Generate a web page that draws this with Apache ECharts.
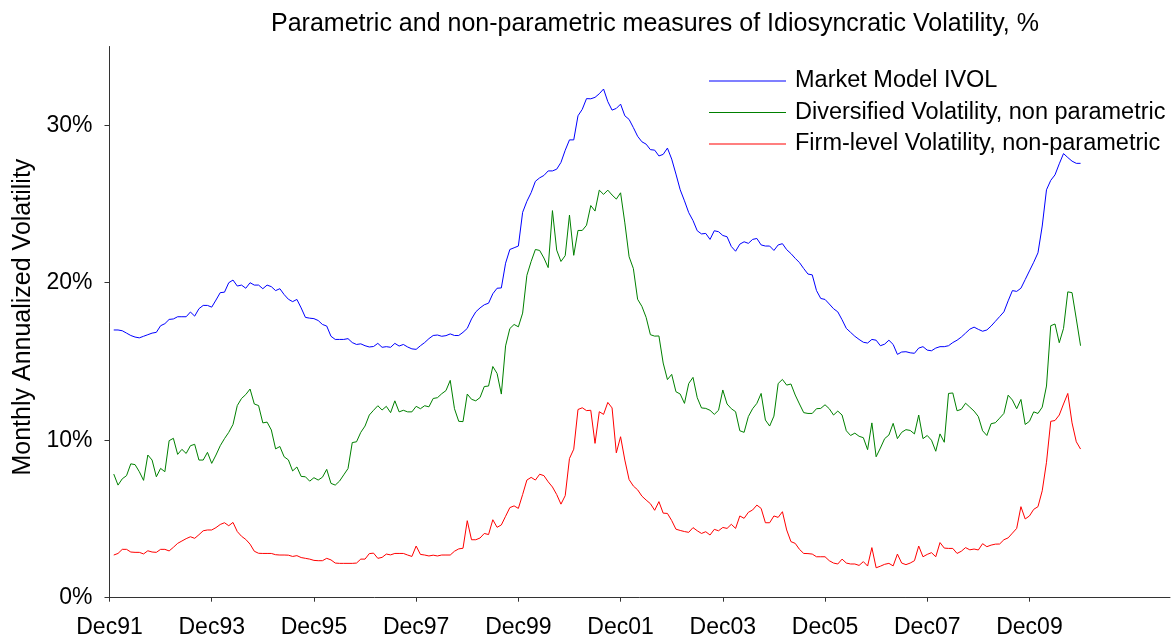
<!DOCTYPE html>
<html>
<head>
<meta charset="utf-8">
<script src="https://cdn.jsdelivr.net/npm/echarts@6/dist/echarts.min.js"></script>
<style>
html,body{margin:0;padding:0;background:#fff;}
#chart{width:1173px;height:641px;}
</style>
</head>
<body>
<div id="chart"></div>
<script>
// Monthly data, Jan 1992 .. Dec 2010 (one row per year)
const marketIVOL = [
17.0,17.0,16.95,16.8,16.65,16.55,16.5,16.6,16.7,16.8,16.85,17.27,
17.4,17.67,17.7,17.84,17.84,17.84,18.14,17.88,18.35,18.56,18.56,18.45,
18.9,19.37,19.4,20.0,20.17,19.79,19.85,19.65,20.0,19.85,19.85,19.62,
19.85,19.75,19.5,19.62,19.25,18.95,18.8,18.94,18.4,17.8,17.75,17.72,
17.6,17.35,17.25,16.6,16.4,16.4,16.4,16.45,16.2,16.08,16.12,16.0,
15.92,15.95,16.15,15.9,15.94,15.9,16.15,15.98,16.08,15.92,15.8,15.77,
16.0,16.2,16.45,16.65,16.68,16.6,16.64,16.75,16.65,16.65,16.85,17.1,
17.7,18.15,18.4,18.6,18.7,19.3,19.65,19.67,21.24,22.11,22.22,22.33,
24.47,25.17,25.72,26.44,26.66,26.81,27.1,27.1,27.21,27.64,28.41,29.07,
29.07,30.6,31.01,31.69,31.68,31.77,32.0,32.3,31.5,30.96,31.07,31.34,
30.6,30.37,29.85,29.3,28.95,28.8,28.45,28.42,28.05,28.15,28.55,27.85,
26.9,25.9,25.2,24.45,23.95,23.3,23.1,23.13,22.75,23.3,23.24,23.0,
22.92,22.3,22.0,22.45,22.6,22.5,22.75,22.81,22.4,22.33,22.33,22.05,
22.4,22.48,22.1,21.85,21.55,21.28,20.9,20.55,20.5,19.5,19.0,18.94,
18.65,18.35,18.15,17.65,17.1,16.85,16.6,16.4,16.22,16.17,16.4,16.35,
16.0,16.1,16.35,16.08,15.45,15.6,15.62,15.55,15.52,15.85,15.94,15.72,
15.68,15.85,15.94,15.94,16.0,16.2,16.35,16.55,16.8,17.05,17.18,17.04,
16.92,17.0,17.25,17.55,17.85,18.15,18.85,19.5,19.45,19.65,20.2,20.75,
21.3,21.9,23.6,25.9,26.5,26.85,27.55,28.2,27.95,27.72,27.58,27.58
];
const diversifiedVol = [
7.85,7.15,7.55,7.75,8.5,8.45,8.0,7.45,9.06,8.74,7.68,8.21,
8.0,9.97,10.12,9.1,9.42,9.16,9.65,9.74,8.74,8.74,9.23,8.53,
9.06,9.65,10.1,10.5,11.0,12.2,12.65,12.9,13.25,12.3,12.2,11.1,
11.15,10.65,9.45,9.6,8.95,8.75,8.05,8.3,7.7,7.68,7.4,7.62,
7.47,7.65,8.15,7.26,7.15,7.4,7.8,8.2,9.85,9.9,10.5,10.9,
11.6,11.9,12.19,11.92,12.15,11.75,12.5,11.8,11.9,11.8,11.8,12.15,
12.0,12.19,12.12,12.65,12.7,12.95,13.15,13.8,12.0,11.2,11.18,12.93,
12.6,12.5,12.71,13.41,13.44,14.68,14.24,12.93,15.99,17.09,17.35,17.2,
18.07,20.47,21.35,22.11,22.05,21.57,20.96,24.58,22.07,21.35,21.72,24.3,
21.74,23.32,23.32,23.65,24.9,24.55,25.88,25.61,25.88,25.57,25.31,25.71,
23.8,21.65,20.9,18.95,18.5,17.8,16.7,16.61,16.62,14.9,13.85,14.18,
13.08,12.93,12.34,13.6,13.99,12.7,12.05,12.02,11.9,11.64,11.9,13.19,
12.3,12.0,11.81,10.6,10.5,11.5,12.0,12.34,12.97,11.28,10.9,11.53,
13.6,13.86,13.5,13.57,12.87,12.3,11.75,11.7,11.7,12.0,12.02,12.25,
12.0,11.6,11.85,11.6,10.6,10.3,10.45,10.25,10.16,9.4,11.1,8.95,
9.5,10.1,10.33,11.07,10.1,10.5,10.67,10.62,10.4,11.6,10.1,10.3,
10.0,9.3,10.4,9.87,12.97,13.0,11.87,11.96,12.35,12.1,11.85,11.5,
10.6,10.3,11.05,11.11,11.4,11.7,12.86,12.55,12.0,12.59,11.0,11.2,
11.8,11.7,12.1,13.44,17.27,17.38,16.19,17.1,19.42,19.37,17.7,16.0
];
const firmVol = [
2.71,2.81,3.07,3.07,2.9,2.88,2.88,2.78,2.98,2.9,2.88,3.07,
3.07,2.97,3.2,3.45,3.6,3.75,3.87,3.77,4.0,4.25,4.3,4.3,
4.45,4.65,4.76,4.57,4.78,4.2,3.9,3.7,3.4,2.95,2.82,2.81,
2.81,2.81,2.73,2.71,2.71,2.7,2.62,2.67,2.55,2.5,2.45,2.37,
2.35,2.35,2.5,2.4,2.2,2.18,2.18,2.18,2.18,2.2,2.45,2.45,
2.8,2.83,2.5,2.56,2.77,2.72,2.81,2.81,2.81,2.71,2.62,3.28,
2.75,2.71,2.65,2.7,2.65,2.71,2.71,2.71,2.95,3.1,3.14,4.89,
3.68,3.68,3.79,4.08,4.01,4.95,4.47,4.62,5.17,5.72,5.83,5.67,
6.55,7.47,7.64,7.47,7.84,7.75,7.36,7.03,6.55,5.94,6.48,8.84,
9.43,11.95,12.06,11.88,11.9,9.8,11.81,11.64,12.4,12.05,9.2,10.22,
8.74,7.5,7.09,6.85,6.45,6.2,5.97,5.55,6.1,5.37,5.35,4.9,
4.35,4.27,4.2,4.15,4.45,4.25,4.08,4.19,3.98,4.34,4.25,4.46,
4.4,4.66,4.4,5.19,5.04,5.42,5.57,5.88,5.67,4.76,4.76,5.19,
5.1,5.46,4.3,3.56,3.45,3.07,2.81,2.8,2.77,2.6,2.6,2.6,
2.35,2.2,2.14,2.45,2.2,2.14,2.14,2.05,2.29,2.01,3.18,1.9,
2.0,2.12,2.18,2.02,2.77,2.2,2.1,2.2,2.35,3.28,2.6,2.75,
2.86,2.6,3.5,3.15,3.13,3.13,2.81,2.95,3.18,3.04,3.09,3.03,
3.43,3.24,3.34,3.4,3.41,3.68,3.8,4.1,4.4,5.78,5.0,5.19,
5.61,5.78,6.79,8.6,11.2,11.25,11.6,12.3,12.97,11.1,9.9,9.44
];
const seriesNames = [
  'Market Model IVOL',
  'Diversified Volatility, non parametric',
  'Firm-level Volatility, non-parametric'
];
const titleText = 'Parametric and non-parametric measures of Idiosyncratic Volatility, %';
const yAxisTitle = 'Monthly Annualized Volatility';
const monthNames = ['Jan','Feb','Mar','Apr','May','Jun','Jul','Aug','Sep','Oct','Nov','Dec'];
// axis runs from Dec 1991 for 250 monthly slots; data begin in Jan 1992
const nSlots = 250;
const lastLabelSlot = 216; // Dec09
const categories = [];
for (let i = 0; i < nSlots; i++) {
  const m = (11 + i) % 12;
  const y = 1991 + Math.floor((11 + i) / 12);
  categories.push(monthNames[m] + String(y % 100).padStart(2, '0'));
}
const pad = arr => [null].concat(arr);
const FONT = 'Liberation Sans, Arial, sans-serif';
const showTick = (idx) => idx % 24 === 0 && idx <= lastLabelSlot;

const chart = echarts.init(document.getElementById('chart'), null, {renderer: 'canvas'});
chart.setOption({
  animation: false,
  backgroundColor: '#ffffff',
  title: {
    text: titleText, left: 650, top: 7, textAlign: 'center',
    textStyle: {fontFamily: FONT, fontSize: 25, fontWeight: 'normal', color: '#000'}
  },
  legend: {
    orient: 'vertical', left: 709, top: 69, itemGap: 7.5, padding: 0,
    itemWidth: 77, itemHeight: 1.2, icon: 'rect',
    textStyle: {fontFamily: FONT, fontSize: 23.5, color: '#000', padding: [0,0,0,4]},
    data: seriesNames
  },
  grid: {left: 109.5, right: 3, top: 46.5, bottom: 43.3, containLabel: false},
  xAxis: {
    type: 'category', data: categories, boundaryGap: false,
    axisLine: {lineStyle: {color: '#333', width: 1}},
    axisTick: {show: true, interval: showTick, length: 4, inside: false, lineStyle: {color: '#333'}},
    axisLabel: {interval: showTick, margin: 18, fontFamily: FONT, fontSize: 23, color: '#000'},
    splitLine: {show: false}
  },
  yAxis: {
    type: 'value', min: 0, max: 35, interval: 10,
    name: yAxisTitle, nameLocation: 'middle', nameGap: 74,
    nameTextStyle: {fontFamily: FONT, fontSize: 25, color: '#000', padding: [0,0,0,10]},
    axisLine: {show: true, lineStyle: {color: '#333', width: 1}},
    axisTick: {show: true, length: 5, lineStyle: {color: '#333'}},
    axisLabel: {formatter: '{value}%', showMaxLabel: false, margin: 17, fontFamily: FONT, fontSize: 23, color: '#000'},
    splitLine: {show: false}
  },
  series: [
    {name: seriesNames[0], type: 'line', data: pad(marketIVOL), showSymbol: false, symbol: 'none',
     lineStyle: {color: '#0000ff', width: 1}, itemStyle: {color: '#0000ff'}},
    {name: seriesNames[1], type: 'line', data: pad(diversifiedVol), showSymbol: false, symbol: 'none',
     lineStyle: {color: '#008000', width: 1}, itemStyle: {color: '#008000'}},
    {name: seriesNames[2], type: 'line', data: pad(firmVol), showSymbol: false, symbol: 'none',
     lineStyle: {color: '#ff0000', width: 1}, itemStyle: {color: '#ff0000'}}
  ]
});
</script>
</body>
</html>
